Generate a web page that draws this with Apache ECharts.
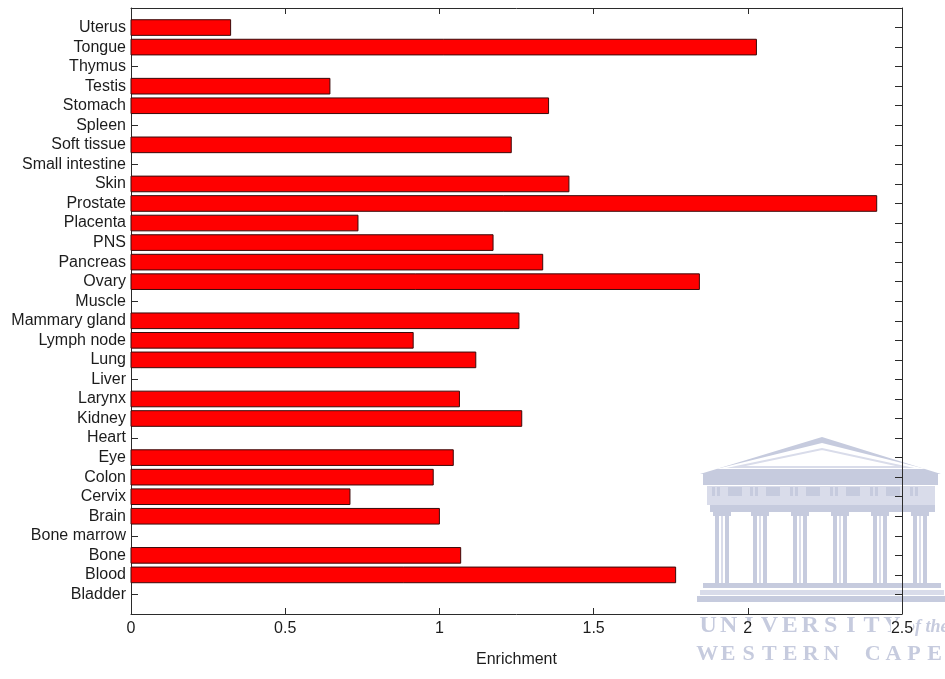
<!DOCTYPE html>
<html>
<head>
<meta charset="utf-8">
<script src="https://cdn.jsdelivr.net/npm/echarts@6/dist/echarts.min.js"></script>
<style>
  html, body { margin: 0; padding: 0; background: #fff; }
  #chart { width: 945px; height: 679px; }
</style>
</head>
<body>
<div id="chart"></div>
<script>
// Tissues, listed bottom-to-top as on the axis
const tissues = [
  'Bladder', 'Blood', 'Bone', 'Bone marrow', 'Brain', 'Cervix', 'Colon', 'Eye',
  'Heart', 'Kidney', 'Larynx', 'Liver', 'Lung', 'Lymph node', 'Mammary gland',
  'Muscle', 'Ovary', 'Pancreas', 'PNS', 'Placenta', 'Prostate', 'Skin',
  'Small intestine', 'Soft tissue', 'Spleen', 'Stomach', 'Testis', 'Thymus',
  'Tongue', 'Uterus'
];
// Enrichment per tissue (same order)
const enrichment = [
  0, 1.766, 1.069, 0, 1.000, 0.710, 0.980, 1.045,
  0, 1.267, 1.065, 0, 1.118, 0.915, 1.258,
  0, 1.843, 1.335, 1.174, 0.736, 2.418, 1.420,
  0, 1.233, 0, 1.354, 0.645, 0,
  2.028, 0.323
];
const xTicks = [0, 0.5, 1, 1.5, 2, 2.5];

const chart = echarts.init(document.getElementById('chart'), null, { renderer: 'canvas' });

const FONT = "'Liberation Sans', Arial, sans-serif";
const AXIS = '#2b2b2b';
const TEXT = '#1c1c1c';
const WM = '#c6cbde';
const WM2 = '#d9dcea';

// university crest drawn faintly behind the plot
function crest() {
  const els = [];
  const rect = (x, y, w, h, fill) => els.push({ type: 'rect', z: -5, silent: true,
    shape: { x, y, width: w, height: h }, style: { fill } });
  // pediment
  els.push({ type: 'polygon', z: -5, silent: true,
    shape: { points: [[700, 474], [822, 437], [941, 474]] }, style: { fill: WM } });
  els.push({ type: 'polygon', z: -5, silent: true,
    shape: { points: [[716, 469], [822, 443], [926, 469]] }, style: { fill: '#fff' } });
  els.push({ type: 'polygon', z: -5, silent: true,
    shape: { points: [[736, 467], [822, 449], [905, 467]] }, style: { fill: 'none', stroke: WM2, lineWidth: 2 } });
  rect(703, 474, 235, 11, WM);
  // frieze
  rect(707, 486, 228, 11, WM2);
  const tri = [712, 750, 790, 830, 870, 910];
  tri.forEach((x, k) => {
    rect(x, 487, 3, 9, WM);
    rect(x + 5, 487, 3, 9, WM);
    if (k < tri.length - 1) rect(x + 16, 487, 14, 9, WM);
  });
  rect(707, 497, 228, 8, WM2);
  rect(710, 505, 225, 7, WM);
  // columns
  [722, 760, 800, 840, 880, 920].forEach(cx => {
    rect(cx - 9, 512, 18, 4, WM);
    rect(cx - 7, 516, 4, 67, WM);
    rect(cx - 1, 516, 2, 67, WM2);
    rect(cx + 3, 516, 4, 67, WM);
  });
  // steps
  rect(703, 583, 238, 5, WM);
  rect(700, 590, 244, 5, WM2);
  rect(697, 596, 248, 6, WM);
  // lettering
  const spread = (txt, x0, x1, y, size) => {
    const step = (x1 - x0) / txt.length;
    [...txt].forEach((ch, k) => els.push({ type: 'text', z: -5, silent: true,
      x: x0 + step * (k + 0.5), y,
      style: { text: ch, fill: WM, font: `bold ${size}px 'Liberation Serif', serif`,
        align: 'center', verticalAlign: 'middle' } }));
  };
  spread('UNIVERSITY', 698, 902, 626, 24);
  els.push({ type: 'text', z: -5, silent: true, x: 906, y: 627,
    style: { text: 'of the', fill: WM, font: "italic bold 18px 'Liberation Serif', serif",
      align: 'left', verticalAlign: 'middle' } });
  spread('WESTERN CAPE', 697, 945, 654, 22);
  return els;
}

function frameAxis(extra) {
  return Object.assign({
    axisLine: { show: true, onZero: false, lineStyle: { color: AXIS, width: 1 } },
    splitLine: { show: false }
  }, extra);
}

chart.setOption({
  animation: false,
  backgroundColor: '#fff',
  graphic: { elements: crest() },
  grid: { left: 131, right: 43, top: 8, bottom: 65, containLabel: false },
  xAxis: [
    frameAxis({
      type: 'value', position: 'bottom', min: xTicks[0], max: xTicks[xTicks.length - 1], interval: 0.5,
      axisTick: { show: true, inside: true, length: 6, lineStyle: { color: AXIS } },
      axisLabel: { color: TEXT, fontFamily: FONT, fontSize: 16, margin: 7,
        backgroundColor: '#fff', formatter: v => String(v) },
      name: 'Enrichment', nameLocation: 'middle', nameGap: 38,
      nameTextStyle: { color: TEXT, fontFamily: FONT, fontSize: 16 }
    }),
    frameAxis({
      type: 'value', position: 'top', min: xTicks[0], max: xTicks[xTicks.length - 1], interval: 0.5,
      axisTick: { show: true, inside: true, length: 6, lineStyle: { color: AXIS } },
      axisLabel: { show: false }
    })
  ],
  yAxis: [
    frameAxis({
      type: 'value', position: 'left', min: 0, max: tissues.length + 1, interval: 1,
      axisTick: { show: true, inside: true, length: 7, lineStyle: { color: AXIS } },
      axisLabel: { color: TEXT, fontFamily: FONT, fontSize: 16, margin: 5,
        formatter: v => tissues[Math.round(v) - 1] || '' }
    }),
    frameAxis({
      type: 'value', position: 'right', min: 0, max: tissues.length + 1, interval: 1,
      axisTick: { show: true, inside: true, length: 7, lineStyle: { color: AXIS } },
      axisLabel: { show: false }
    })
  ],
  series: [{
    type: 'custom',
    xAxisIndex: 0,
    yAxisIndex: 0,
    z: 3,
    data: enrichment.map((v, i) => [v, i + 1]),
    encode: { x: 0, y: 1 },
    renderItem: (params, api) => {
      const v = api.value(0);
      const pos = api.value(1);
      if (!v) return null;
      const a = api.coord([0, pos + 0.4]);
      const b = api.coord([v, pos - 0.4]);
      return {
        type: 'rect',
        shape: { x: a[0], y: a[1], width: b[0] - a[0], height: b[1] - a[1] },
        style: { fill: '#ff0000', stroke: '#3a0a0a', lineWidth: 1 }
      };
    }
  }]
});
</script>
</body>
</html>
